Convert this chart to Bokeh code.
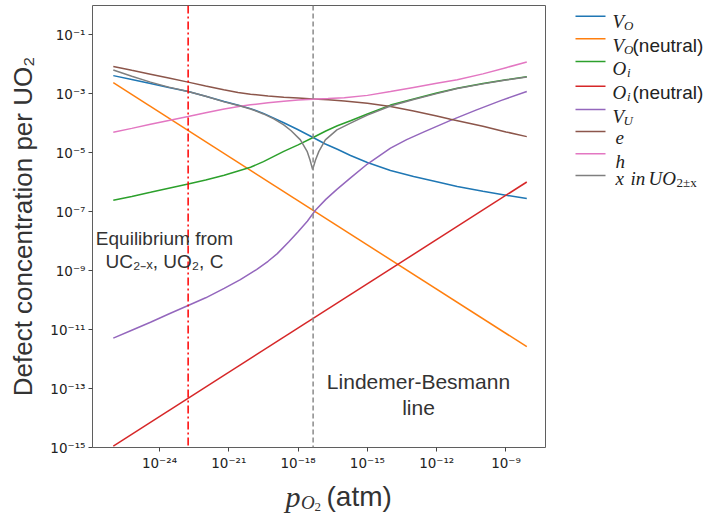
import numpy as np
from bokeh.plotting import figure
from bokeh.models import Range1d, Label, FixedTicker, CustomJSTickFormatter, Span
from bokeh.layouts import row, column
from bokeh.core.properties import value
from bokeh.embed import file_html
from bokeh.resources import INLINE

# ---------------- data (log10 of pO2 in atm, log10 of concentration per UO2) -------------
vo_logp = [-26.0, -25.2, -24.39, -23.6, -22.76, -22.0, -21.2, -20.5, -20.06, -19.5, -19.05, -18.62,
           -18.04, -17.35, -16.82, -16.3, -15.73, -15.0, -14.0, -13.0, -12.0, -11.11, -10.0, -9.0, -8.1]
vo_logc = [-2.38, -2.51, -2.65, -2.78, -2.92, -3.08, -3.26, -3.40, -3.50, -3.66, -3.82, -3.98,
           -4.20, -4.48, -4.70, -4.88, -5.09, -5.33, -5.60, -5.80, -5.98, -6.14, -6.30, -6.44, -6.55]

von_logp = [-26.0, -8.1]
von_logc = [-2.62, -11.58]

oi_logp = [-26.0, -25.2, -24.39, -23.6, -22.76, -22.0, -21.2, -20.06, -19.5, -18.9, -18.62, -18.0,
           -17.35, -16.8, -16.3, -15.73, -15.0, -14.0, -13.0, -12.0, -11.11, -10.0, -9.0, -8.1]
oi_logc = [-6.61, -6.48, -6.34, -6.20, -6.06, -5.92, -5.76, -5.49, -5.30, -5.06, -4.95, -4.73,
           -4.48, -4.26, -4.08, -3.91, -3.68, -3.38, -3.17, -2.97, -2.81, -2.65, -2.52, -2.42]

oin_logp = [-26.0, -8.1]
oin_logc = [-14.95, -5.99]

vu_logp = [-26.0, -25.2, -24.39, -23.6, -22.76, -22.0, -21.2, -20.5, -19.8, -19.3, -18.9, -18.4,
           -18.0, -17.6, -17.25, -16.8, -16.32, -15.73, -15.0, -14.0, -13.3, -12.55, -11.4, -10.3,
           -9.2, -8.1]
vu_logc = [-11.29, -11.02, -10.75, -10.47, -10.18, -9.92, -9.60, -9.30, -8.96, -8.68, -8.42, -8.02,
           -7.68, -7.32, -6.95, -6.58, -6.24, -5.85, -5.38, -4.84, -4.55, -4.29, -3.90, -3.55,
           -3.22, -2.92]

e_logp = [-26.0, -25.2, -24.39, -23.6, -22.76, -22.0, -21.22, -20.6, -20.06, -19.3, -18.62, -18.0,
          -17.35, -16.7, -16.0, -15.0, -14.0, -13.0, -12.0, -11.4, -10.0, -9.0, -8.1]
e_logc = [-2.07, -2.20, -2.33, -2.46, -2.60, -2.73, -2.86, -2.95, -3.01, -3.07, -3.11, -3.14,
          -3.17, -3.20, -3.24, -3.32, -3.43, -3.58, -3.75, -3.86, -4.10, -4.29, -4.45]

h_logp = [-26.0, -25.2, -24.39, -23.6, -22.76, -22.0, -21.2, -20.5, -20.06, -19.3, -18.62, -18.0,
          -17.35, -16.7, -16.0, -15.0, -14.0, -13.0, -12.0, -11.11, -10.0, -9.0, -8.1]
h_logc = [-4.30, -4.17, -4.03, -3.90, -3.77, -3.64, -3.51, -3.42, -3.37, -3.30, -3.25, -3.21,
          -3.18, -3.16, -3.13, -3.05, -2.92, -2.78, -2.64, -2.52, -2.32, -2.11, -1.92]

x_logp = [-26.0, -25.2, -24.39, -23.6, -22.76, -22.0, -21.2, -20.5, -20.06, -19.5, -19.05, -18.62,
          -18.3, -17.9, -17.61, -17.48, -17.37, -17.25, -17.1, -16.82, -16.32, -15.73, -15.3,
          -15.0, -14.0, -13.0, -12.0, -11.11, -10.0, -9.0, -8.1]
x_logc = [-2.19, -2.40, -2.60, -2.77, -2.92, -3.08, -3.27, -3.41, -3.51, -3.68, -3.85, -4.05,
          -4.25, -4.56, -4.95, -5.25, -5.57, -5.25, -4.95, -4.56, -4.22, -3.99, -3.83,
          -3.72, -3.41, -3.19, -2.99, -2.82, -2.66, -2.53, -2.43]

equilibrium_logp = -22.76      # UC2-x / UO2 / C equilibrium
lindemer_logp = -17.35         # Lindemer-Besmann line

x_tick_exps = [-24, -21, -18, -15, -12, -9]
y_tick_exps = [-1, -3, -5, -7, -9, -11, -13, -15]

series = [
    (vo_logp, vo_logc, "#1f77b4"),
    (von_logp, von_logc, "#ff7f0e"),
    (oi_logp, oi_logc, "#2ca02c"),
    (oin_logp, oin_logc, "#d62728"),
    (vu_logp, vu_logc, "#9467bd"),
    (e_logp, e_logc, "#8c564b"),
    (h_logp, h_logc, "#e377c2"),
    (x_logp, x_logc, "#7f7f7f"),
]

txt = "#333333"

# ---------------- main figure ----------------
p = figure(width=560, height=477, x_axis_type="log", y_axis_type="log",
           x_range=Range1d(10 ** -26.9, 10 ** -7.29), y_range=Range1d(1e-15, 1e0),
           output_backend="svg", toolbar_location=None,
           min_border_left=92, min_border_right=15, min_border_top=5, min_border_bottom=30)
p.background_fill_color = "white"
p.border_fill_color = "white"
p.grid.visible = False
p.outline_line_color = "#5f5f5f"
p.outline_line_width = 1

for lp, lc, col in series:
    p.line(np.power(10.0, lp), np.power(10.0, lc), line_color=col, line_width=1.5)

p.add_layout(Span(location=10 ** equilibrium_logp, dimension="height", line_color="#ff0000",
                  line_width=1.5, line_dash="8 3 2 3"))
p.add_layout(Span(location=10 ** lindemer_logp, dimension="height", line_color="#8a8a8a",
                  line_width=1.5, line_dash="5 3"))

fmt = CustomJSTickFormatter(code="""
const sup = {"-":"\\u207b","0":"\\u2070","1":"\\u00b9","2":"\\u00b2","3":"\\u00b3","4":"\\u2074",
             "5":"\\u2075","6":"\\u2076","7":"\\u2077","8":"\\u2078","9":"\\u2079"};
const e = Math.round(Math.log10(tick));
return "10" + String(e).split("").map(c => sup[c]).join("");
""")
for ax, exps in ((p.xaxis, x_tick_exps), (p.yaxis, y_tick_exps)):
    ax.ticker = FixedTicker(ticks=[10.0 ** k for k in exps], minor_ticks=[])
    ax.formatter = fmt
    ax.major_label_text_font = "DejaVu Sans"
    ax.major_label_text_font_size = "13.5px"
    ax.major_label_text_color = "#222222"
    ax.major_tick_line_color = "#444444"
    ax.major_tick_out = 4
    ax.major_tick_in = 0
    ax.minor_tick_line_color = None
    ax.axis_line_color = None
    ax.major_label_standoff = 3

p.yaxis.axis_label = "Defect concentration per UO\u2082"
p.yaxis.axis_label_text_font = "Liberation Sans"
p.yaxis.axis_label_text_font_style = "normal"
p.yaxis.axis_label_text_font_size = "26px"
p.yaxis.axis_label_text_color = txt
p.yaxis.axis_label_standoff = 9

def lab(x, y, t, size, align="center"):
    p.add_layout(Label(x=x - 92, y=447 - y, x_units="screen", y_units="screen", text=t,
                       text_font="Liberation Sans", text_font_size=size,
                       text_color=txt, text_align=align, text_baseline="alphabetic"))

lab(164, 238, "Equilibrium from", "19px")
lab(164, 261, "UC\u2082\u208b\u2093, UO\u2082, C", "19px")
lab(418, 381, "Lindemer-Besmann", "21px")
lab(418, 407, "line", "21px")

# ---------------- x-axis title strip (canvas y 477..518, x in canvas pixels) ----------------
xl = figure(width=560, height=41, x_range=Range1d(92, 545), y_range=Range1d(518, 477),
            output_backend="svg", toolbar_location=None, x_axis_location=None,
            y_axis_location=None, min_border_left=92, min_border_right=15,
            min_border_top=0, min_border_bottom=0)
xl.grid.visible = False
xl.outline_line_color = None
xl.text(x=[285], y=[496], text=["p"], text_font=value("Liberation Serif"), text_font_style="italic",
        text_font_size="30px", text_color=txt, text_baseline="alphabetic")
xl.text(x=[300.5], y=[502], text=["O"], text_font=value("Liberation Serif"), text_font_style="italic",
        text_font_size="19px", text_color=txt, text_baseline="alphabetic")
xl.text(x=[314], y=[506], text=["2"], text_font=value("Liberation Serif"),
        text_font_size="13px", text_color=txt, text_baseline="alphabetic")
xl.text(x=[326], y=[496], text=["(atm)"], text_font=value("Liberation Sans"),
        text_font_size="28px", text_color=txt, text_baseline="alphabetic")

# ---------------- legend figure ----------------
leg = figure(width=144, height=518, x_range=Range1d(0, 144), y_range=Range1d(518, 0),
             output_backend="svg", toolbar_location=None, x_axis_location=None,
             y_axis_location=None, min_border_left=0, min_border_right=0,
             min_border_top=0, min_border_bottom=0)
leg.grid.visible = False
leg.outline_line_color = None

line_ys = [15.7, 38.3, 61.0, 85.7, 109.0, 131.0, 153.3, 175.0]
leg.segment(x0=[15] * 8, x1=[45] * 8, y0=line_ys, y1=line_ys,
            line_color=[s[2] for s in series], line_width=1.5)

pieces = [
    ("V", 52, 21, 19, "m"), ("O", 63.5, 25, 13, "m"),
    ("V", 52, 44.5, 19, "m"), ("O", 63.5, 48.5, 13, "m"), ("(neutral)", 72, 44.5, 19, "t"),
    ("O", 52, 68, 19, "m"), ("i", 66.5, 72, 13, "m"),
    ("O", 52, 92, 19, "m"), ("i", 66.5, 96, 13, "m"), ("(neutral)", 72, 92, 19, "t"),
    ("V", 52, 116, 19, "m"), ("U", 63, 120, 13, "m"),
    ("e", 55, 137, 19, "m"),
    ("h", 55, 161, 19, "m"),
    ("x", 55, 178, 19, "m"), ("in", 70, 178, 19, "m"), ("UO", 88, 178, 19, "m"),
    ("2\u00b1x", 116, 182, 13, "s"),
]
for t, x, y, s, kind in pieces:
    if kind == "t":
        font, style = "Liberation Sans", "normal"
    elif kind == "s":
        font, style = "Liberation Serif", "normal"
    else:
        font, style = "Liberation Serif", "italic"
    leg.text(x=[x], y=[y], text=[t], text_font=value(font), text_font_style=style,
             text_font_size=f"{s}px", text_color="#222222", text_baseline="alphabetic")

layout = row(column(p, xl), leg)
open("out.html", "w").write(file_html(layout, INLINE))
